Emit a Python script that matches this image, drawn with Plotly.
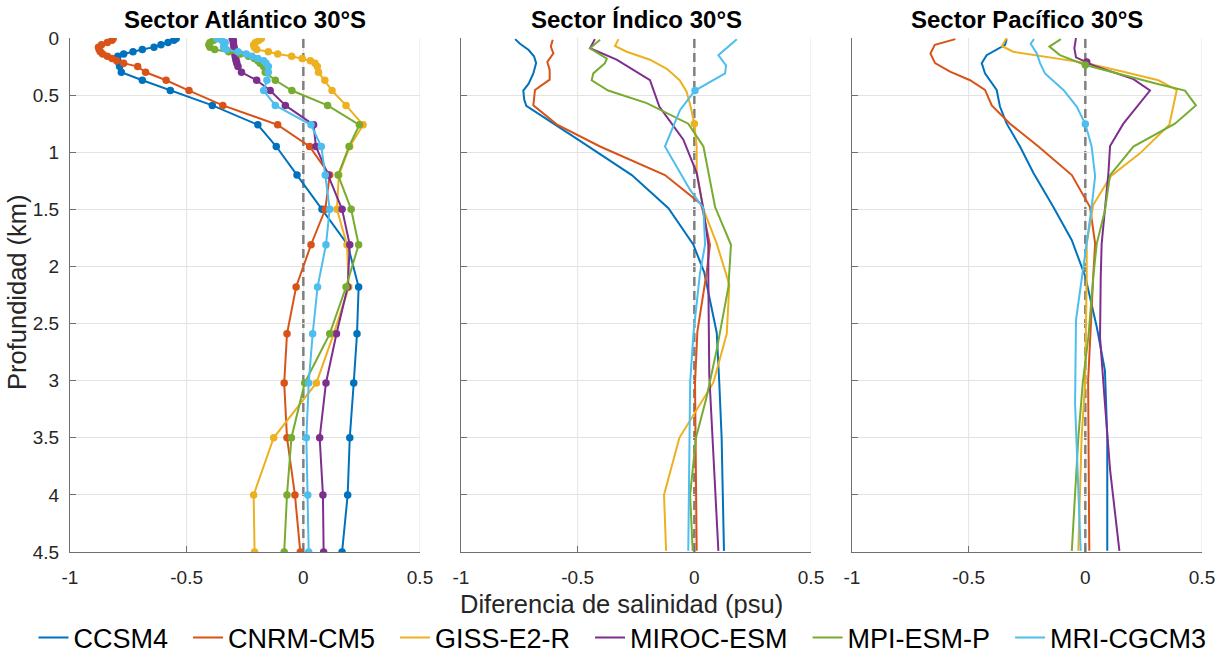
import plotly.graph_objects as go

# ---------------------------------------------------------------------------
# Salinity difference profiles (model - observations) at 30°S, depth in km
# ---------------------------------------------------------------------------
MODELS = ["CCSM4", "CNRM-CM5", "GISS-E2-R", "MIROC-ESM", "MPI-ESM-P", "MRI-CGCM3"]
COLORS = ["#0072BD", "#D95319", "#EDB120", "#7E2F8E", "#77AC30", "#4DBEEE"]

# Atlantic sector: common depth levels, shown with markers
ATL_Z = [0.005, 0.02, 0.04, 0.06, 0.08, 0.10, 0.12, 0.14, 0.16, 0.18, 0.20, 0.22,
         0.25, 0.30, 0.37, 0.46, 0.59, 0.76, 0.95, 1.2, 1.5, 1.81, 2.18, 2.59,
         3.02, 3.5, 4.0, 4.5]
ATL_CCSM4 = [-0.545, -0.555, -0.58, -0.61, -0.64, -0.69, -0.73, -0.77, -0.795, -0.80,
             -0.795, -0.79, -0.787, -0.78, -0.69, -0.57, -0.39, -0.195, -0.116, -0.027,
             0.08, 0.19, 0.237, 0.23, 0.216, 0.199, 0.19, 0.166]
ATL_CNRM = [-0.815, -0.82, -0.84, -0.865, -0.878, -0.875, -0.87, -0.86, -0.84, -0.82,
            -0.80, -0.77, -0.71, -0.676, -0.588, -0.49, -0.345, -0.11, 0.027, 0.113,
            0.094, 0.033, -0.031, -0.07, -0.082, -0.07, -0.036, -0.013]
ATL_GISS = [-0.18, -0.19, -0.205, -0.213, -0.21, -0.20, -0.15, -0.11, -0.05, -0.005,
            0.03, 0.05, 0.06, 0.065, 0.092, 0.123, 0.183, 0.256, 0.199, 0.152,
            0.144, 0.187, 0.195, 0.13, 0.056, -0.127, -0.213, -0.209]
ATL_MIROC = [-0.305, -0.30, -0.30, -0.299, -0.297, -0.295, -0.294, -0.293, -0.292, -0.29,
             -0.288, -0.285, -0.28, -0.265, -0.20, -0.142, -0.077, 0.044, 0.054, 0.106,
             0.166, 0.199, 0.19, 0.142, 0.097, 0.07, 0.084, 0.087]
ATL_MPI = [-0.37, -0.385, -0.40, -0.405, -0.40, -0.38, -0.32, -0.27, -0.235, -0.21,
           -0.195, -0.185, -0.17, -0.163, -0.12, -0.049, 0.104, 0.24, 0.196, 0.149,
           0.205, 0.237, 0.183, 0.113, 0.006, -0.051, -0.07, -0.082]
ATL_MRI = [-0.37, -0.35, -0.335, -0.34, -0.342, -0.33, -0.28, -0.245, -0.22, -0.195,
           -0.17, -0.16, -0.15, -0.15, -0.156, -0.17, -0.12, 0.033, 0.077, 0.094,
           0.113, 0.097, 0.061, 0.04, 0.023, 0.013, 0.019, 0.023]

# Indian sector
IND_CCSM4_Z = [0.01, 0.05, 0.105, 0.16, 0.22, 0.31, 0.40, 0.46, 0.54, 0.595, 0.9, 1.2,
               1.49, 1.81, 2.05, 2.58, 3.02, 3.5, 4.0, 4.49]
IND_CCSM4 = [-0.768, -0.747, -0.71, -0.687, -0.678, -0.69, -0.71, -0.733, -0.729, -0.72,
             -0.49, -0.268, -0.111, -0.004, 0.042, 0.096, 0.107, 0.117, 0.122, 0.127]
IND_CNRM_Z = [0.015, 0.075, 0.135, 0.21, 0.28, 0.365, 0.455, 0.59, 0.756, 0.95, 1.2,
              1.45, 1.5, 1.81, 2.05, 2.57, 3.02, 3.5, 4.0, 4.49]
IND_CNRM = [-0.607, -0.615, -0.604, -0.63, -0.62, -0.62, -0.683, -0.69, -0.59, -0.404,
            -0.126, 0.027, 0.035, 0.067, 0.053, 0.013, 0.003, 0.006, 0.008, 0.01]
IND_GISS_Z = [0.01, 0.07, 0.12, 0.19, 0.27, 0.37, 0.47, 0.6, 0.75, 0.95, 1.17, 1.5,
              1.8, 2.16, 2.59, 3.02, 3.5, 4.0, 4.49]
IND_GISS = [-0.325, -0.34, -0.29, -0.19, -0.118, -0.063, -0.033, -0.016, 0.0, 0.01,
            0.01, 0.039, 0.096, 0.15, 0.139, 0.081, -0.064, -0.13, -0.121]
IND_MIROC_Z = [0.01, 0.06, 0.09, 0.19, 0.295, 0.37, 0.6, 0.69, 0.89, 1.18, 1.5, 1.81,
               2.1, 2.95, 3.5, 4.0, 4.49]
IND_MIROC = [-0.426, -0.44, -0.447, -0.333, -0.247, -0.19, -0.15, -0.118, -0.047, 0.01,
             0.039, 0.06, 0.06, 0.064, 0.079, 0.092, 0.103]
IND_MPI_Z = [0.015, 0.05, 0.09, 0.18, 0.22, 0.31, 0.37, 0.46, 0.57, 0.75, 0.95, 1.48,
             1.81, 2.18, 2.73, 3.14, 3.5, 4.0, 4.49]
IND_MPI = [-0.404, -0.426, -0.447, -0.375, -0.383, -0.433, -0.44, -0.369, -0.204, -0.026,
           0.039, 0.089, 0.157, 0.146, 0.096, 0.053, 0.007, -0.018, -0.007]
IND_MRI_Z = [0.01, 0.15, 0.24, 0.31, 0.46, 0.63, 0.95, 1.33, 1.49, 1.81, 2.06, 2.59,
             3.02, 3.5, 4.0, 4.49]
IND_MRI = [0.182, 0.103, 0.136, 0.132, 0.003, -0.061, -0.126, -0.018, 0.039, 0.046,
           0.024, -0.004, -0.018, -0.021, -0.024, -0.026]

# Pacific sector
PAC_CCSM4_Z = [0.01, 0.06, 0.15, 0.22, 0.31, 0.455, 0.6, 0.75, 0.95, 1.18, 1.48, 1.77,
               2.09, 2.53, 2.91, 3.5, 4.0, 4.49]
PAC_CCSM4 = [-0.337, -0.344, -0.423, -0.444, -0.43, -0.38, -0.366, -0.337, -0.28, -0.223,
             -0.137, -0.058, 0.0, 0.049, 0.084, 0.094, 0.094, 0.094]
PAC_CNRM_Z = [0.01, 0.06, 0.135, 0.22, 0.295, 0.37, 0.455, 0.59, 0.75, 0.95, 1.2, 1.48,
              1.8, 2.08, 3.0, 4.49]
PAC_CNRM = [-0.557, -0.645, -0.664, -0.644, -0.58, -0.494, -0.43, -0.401, -0.323, -0.201,
            -0.058, 0.02, 0.042, 0.034, 0.012, 0.017]
PAC_GISS_Z = [0.0, 0.07, 0.12, 0.18, 0.22, 0.295, 0.37, 0.455, 0.76, 1.01, 1.21, 1.46,
              1.8, 2.09, 3.02, 3.5, 4.49]
PAC_GISS = [-0.337, -0.358, -0.309, -0.123, 0.006, 0.163, 0.313, 0.392, 0.36, 0.234,
            0.109, 0.034, 0.006, 0.006, -0.001, -0.016, -0.03]
PAC_MIROC_Z = [0.0, 0.09, 0.17, 0.21, 0.24, 0.36, 0.46, 0.75, 0.945, 1.18, 1.48, 1.8,
               2.09, 2.62, 3.2, 3.78, 4.49]
PAC_MIROC = [-0.04, -0.047, -0.04, 0.006, 0.034, 0.206, 0.277, 0.163, 0.106, 0.099,
             0.084, 0.07, 0.066, 0.063, 0.084, 0.106, 0.146]
PAC_MPI_Z = [0.01, 0.075, 0.15, 0.236, 0.4, 0.46, 0.59, 0.75, 0.95, 1.2, 1.51, 1.8,
             2.09, 2.62, 3.02, 3.5, 4.49]
PAC_MPI = [-0.105, -0.154, -0.109, 0.0, 0.306, 0.427, 0.474, 0.384, 0.206, 0.106,
           0.084, 0.049, 0.034, 0.013, -0.011, -0.03, -0.058]
PAC_MRI_Z = [0.01, 0.05, 0.135, 0.22, 0.31, 0.455, 0.6, 0.753, 0.95, 1.21, 1.48, 1.8,
             2.09, 2.47, 3.2, 3.78, 4.49]
PAC_MRI = [-0.22, -0.234, -0.208, -0.194, -0.173, -0.094, -0.037, 0.0, 0.027, 0.042,
           0.027, 0.006, -0.016, -0.04, -0.044, -0.034, -0.02]

# Highlighted single levels (model, salinity difference, depth)
IND_MARK_MODEL = ["GISS-E2-R", "MRI-CGCM3"]
IND_MARK_S = [0.0, 0.003]
IND_MARK_Z = [0.75, 0.46]
PAC_MARK_MODEL = ["MIROC-ESM", "MPI-ESM-P", "MRI-CGCM3"]
PAC_MARK_S = [0.006, 0.0, 0.0]
PAC_MARK_Z = [0.21, 0.236, 0.753]

TITLES = ["Sector Atlántico 30°S", "Sector Índico 30°S", "Sector Pacífico 30°S"]
X_TICKS = [-1, -0.5, 0, 0.5]
X_TICK_TEXT = ["-1", "-0.5", "0", "0.5"]
Y_TICKS = [0, 0.5, 1, 1.5, 2, 2.5, 3, 3.5, 4, 4.5]
Y_TICK_TEXT = ["0", "0.5", "1", "1.5", "2", "2.5", "3", "3.5", "4", "4.5"]

FONT = "Liberation Sans, Arial, Helvetica, sans-serif"
W, H = 1228, 658
LEGEND_PAD = "\u00a0\u00a0"  # extra room after each legend label

atl_series = [ATL_CCSM4, ATL_CNRM, ATL_GISS, ATL_MIROC, ATL_MPI, ATL_MRI]
ind_series = [(IND_CCSM4_Z, IND_CCSM4), (IND_CNRM_Z, IND_CNRM), (IND_GISS_Z, IND_GISS),
              (IND_MIROC_Z, IND_MIROC), (IND_MPI_Z, IND_MPI), (IND_MRI_Z, IND_MRI)]
pac_series = [(PAC_CCSM4_Z, PAC_CCSM4), (PAC_CNRM_Z, PAC_CNRM), (PAC_GISS_Z, PAC_GISS),
              (PAC_MIROC_Z, PAC_MIROC), (PAC_MPI_Z, PAC_MPI), (PAC_MRI_Z, PAC_MRI)]

fig = go.Figure()

# Atlantic: lines with markers
for name, color, vals in zip(MODELS, COLORS, atl_series):
    fig.add_trace(go.Scatter(
        x=vals, y=ATL_Z, mode="lines+markers", name=name, legendgroup=name,
        showlegend=False, line=dict(color=color, width=2),
        marker=dict(color=color, size=7.5), xaxis="x", yaxis="y"))

# Indian: lines only (these carry the legend)
for name, color, (z, s) in zip(MODELS, COLORS, ind_series):
    fig.add_trace(go.Scatter(
        x=s, y=z, mode="lines", name=name + LEGEND_PAD, legendgroup=name,
        showlegend=True, line=dict(color=color, width=2), xaxis="x2", yaxis="y2"))

# Pacific: lines only
for name, color, (z, s) in zip(MODELS, COLORS, pac_series):
    fig.add_trace(go.Scatter(
        x=s, y=z, mode="lines", name=name, legendgroup=name, showlegend=False,
        line=dict(color=color, width=2), xaxis="x3", yaxis="y3"))

# Single highlighted levels
for models, svals, zvals, xa, ya in [(IND_MARK_MODEL, IND_MARK_S, IND_MARK_Z, "x2", "y2"),
                                     (PAC_MARK_MODEL, PAC_MARK_S, PAC_MARK_Z, "x3", "y3")]:
    for m, s, z in zip(models, svals, zvals):
        c = COLORS[MODELS.index(m)]
        fig.add_trace(go.Scatter(
            x=[s], y=[z], mode="markers", name=m, legendgroup=m, showlegend=False,
            marker=dict(color=c, size=7.5), xaxis=xa, yaxis=ya))

# Panel geometry (pixels)
PANEL_LEFT = [70, 461, 852]
PANEL_W = 350
TOP, BOTTOM = 38, 552
Y_DOM = [1 - BOTTOM / H, 1 - TOP / H]

axis_common = dict(
    showline=True, linecolor="#707070", linewidth=1,
    gridcolor="#e3e3e3", gridwidth=1,
    zeroline=False, ticks="inside", ticklen=6, tickcolor="#707070",
    tickfont=dict(family=FONT, size=19, color="#262626"),
)

layout_axes = {}
for i, left in enumerate(PANEL_LEFT):
    sfx = "" if i == 0 else str(i + 1)
    layout_axes["xaxis" + sfx] = dict(
        axis_common, domain=[left / W, (left + PANEL_W) / W], range=[-1, 0.5],
        tickvals=X_TICKS, ticktext=X_TICK_TEXT, anchor="y" + sfx,
        showgrid=False, ticklabelstandoff=8)
    layout_axes["yaxis" + sfx] = dict(
        axis_common, domain=Y_DOM, range=[4.5, 0], showgrid=True,
        tickvals=Y_TICKS, ticktext=Y_TICK_TEXT, anchor="x" + sfx,
        showticklabels=(i == 0), ticklabelstandoff=6)

# Vertical grid lines and the dashed zero line, drawn beneath the profiles
shapes = []
for i in range(3):
    xr = "x" if i == 0 else "x" + str(i + 1)
    for tv in X_TICKS[1:]:
        shapes.append(dict(
            type="line", xref=xr, yref="paper", x0=tv, x1=tv,
            y0=Y_DOM[0], y1=Y_DOM[1], layer="below",
            line=dict(color="#e3e3e3", width=1)))
    shapes.append(dict(
        type="line", xref=xr, yref="paper", x0=0, x1=0,
        y0=Y_DOM[0], y1=Y_DOM[1], layer="below",
        line=dict(color="#808080", width=2.5, dash="9px,5px")))

annotations = []
for i, left in enumerate(PANEL_LEFT):
    annotations.append(dict(
        text="<b>" + TITLES[i] + "</b>", xref="paper", yref="paper",
        x=(left + PANEL_W / 2) / W, y=1 - 20 / H, xanchor="center", yanchor="middle",
        showarrow=False, font=dict(family=FONT, size=24, color="#000000")))
annotations.append(dict(
    text="Profundidad (km)", xref="paper", yref="paper", x=17 / W, y=1 - 292 / H,
    xanchor="center", yanchor="middle", textangle=-90, showarrow=False,
    font=dict(family=FONT, size=25.5, color="#262626")))
annotations.append(dict(
    text="Diferencia de salinidad (psu)", xref="paper", yref="paper",
    x=621 / W, y=1 - 604 / H, xanchor="center", yanchor="middle", showarrow=False,
    font=dict(family=FONT, size=25.5, color="#262626")))

fig.update_layout(
    width=W, height=H, margin=dict(l=0, r=0, t=0, b=0, autoexpand=False),
    paper_bgcolor="white", plot_bgcolor="rgba(0,0,0,0)",
    font=dict(family=FONT),
    showlegend=True,
    legend=dict(orientation="h", x=630 / W, xanchor="center", y=1 - 638 / H,
                yanchor="middle", font=dict(family=FONT, size=27, color="#000000"),
                bgcolor="rgba(0,0,0,0)", tracegroupgap=0),
    shapes=shapes, annotations=annotations,
    **layout_axes,
)

fig.write_html("out.html")
